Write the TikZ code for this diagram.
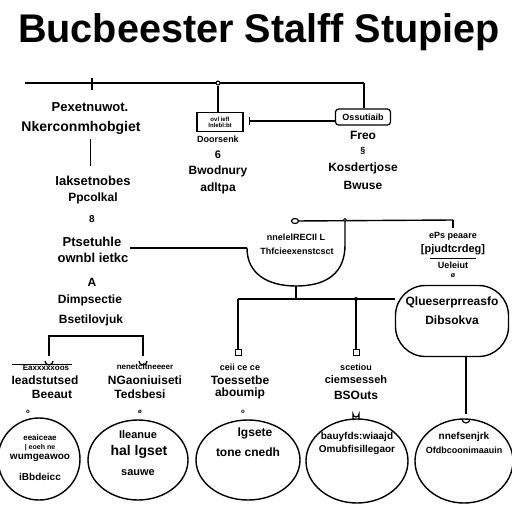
\documentclass[tikz,border=0pt]{standalone}
\usepackage{fontspec}
\setmainfont{Liberation Sans}
\usetikzlibrary{arrows.meta,shapes.geometric}
\tikzset{
  ln/.style={line width=1.4pt,black},
  lbl/.style={inner sep=0pt,align=center,font=\fontsize{#1}{#1}\selectfont\bfseries},
  lbl/.default=11,
  bubble/.style={draw,ellipse,line width=1.4pt,inner sep=0pt},
  sq/.style={draw,line width=1pt,minimum size=5pt,inner sep=0pt},
  dot/.style={draw,circle,line width=1pt,minimum size=5pt,inner sep=0pt,fill=white},
}
\begin{document}
\begin{tikzpicture}[x=1pt,y=-1pt]
\useasboundingbox[fill=white] (0,0) rectangle (512,512);
% title
\node[inner sep=0pt,font=\fontsize{40}{40}\selectfont\bfseries,xscale=0.99] (title) at (259,32) {Bucbeester Stalff Stupiep};

% top bar
\coordinate (tl) at (25,83);
\coordinate (tr) at (364,83);
\coordinate (tk) at (92,83);
\draw[ln] (tl) -- (tr);
\draw[ln] (92,78) -- (92,90);
\node[dot,minimum size=4pt] (j1) at (218,83) {};

% box1
\node[draw,line width=1.2pt,minimum width=46pt,minimum height=19pt,inner sep=0pt,lbl=6] (b1) at (220,122) {ovl iefl\\ lnlebl:bt};
\draw[ln] (j1) -- (b1.north -| j1);
% box2
\node[draw,line width=1.2pt,rounded corners=3pt,minimum width=55pt,minimum height=16pt,inner sep=0pt,lbl=9] (b2) at (363,117) {Ossutiaib};
\draw[ln] (tr) -- (b2.north -| tr);
\draw[ln,{Bar[width=8pt]}-] (b1.east |- 0,121) ++(5,0) coordinate (a1) -- (b2.west |- 0,121);

% texts under box1
\node[lbl=9] (d1) at (218,139) {Doorsenk};
\node[lbl=11] (d2) at (218,155) {6};
\node[lbl=12] (d3) at (218,171) {Bwodnury};
\node[lbl=12] (d4) at (218,188) {adltpa};
% texts under box2
\node[lbl=12] (e1) at (363,135) {Freo};
\node[lbl=9] (e2) at (363,151) {§};
\node[lbl=12] (e3) at (363,168) {Kosdertjose};
\node[lbl=12] (e4) at (363,185) {Bwuse};

% left column
\node[lbl=13] (l1) at (90,107) {Pexetnuwot.};
\node[lbl=14] (l2) at (81,128) {Nkerconmhobgiet};
\draw[ln,line width=1pt] (90,139) -- (90,166);
\node[lbl=13] (l3) at (93,181) {Iaksetnobes};
\node[lbl=12] (l4) at (93,198) {Ppcolkal};
\node[lbl=10] (l5) at (92,219) {8};
\node[lbl=13] (l6) at (92,242) {Ptsetuhle};
\node[lbl=13] (l7) at (93,258) {ownbl ietkc};
\node[lbl=12] (l8) at (92,282) {A};
\node[lbl=12] (l9) at (90,300) {Dimpsectie};
\node[lbl=12] (l10) at (91,320) {Bsetilovjuk};

% bowl
\coordinate (bwL) at (247,248);
\coordinate (bwR) at (345,220);
\coordinate (bwB) at (296,286);
\draw[ln] (130,248) coordinate (lin) -- (bwL);
\draw[ln] (bwL) .. controls (247,274) and (268,286) .. (bwB) .. controls (328,286) and (345,272) .. (345,245) -- (bwR);
\node[lbl=9] (bw1) at (296,237) {nnelelRECIl L};
\node[lbl=9] (bw2) at (297,251) {Thfcieexenstcsct};
\node[draw,ellipse,line width=1.2pt,minimum width=7pt,minimum height=5pt,inner sep=0pt] (o1) at (295,221) {};
\draw[ln] (o1) -- (453,220) coordinate (rtop);
\node[dot,minimum size=3pt] at (bwR) {};
\draw[ln,line width=2.5pt] (rtop) -- (453,228);

% right label
\node[lbl=9] (r1) at (453,236) {ePs peaare};
\node[lbl=11] (r2) at (453,250) {[pjudtcrdeg]};
\node[lbl=9] (r3) at (453,265) {Ueleiut};
\draw[line width=0.8pt] (430,258) -- (476,258);
\node[lbl=7] (r4) at (453,276) {ø};

% right rounded shape
\node[draw,line width=1.4pt,rounded corners=30pt,minimum width=113pt,minimum height=71pt,inner sep=0pt] (rs) at (452,321) {};
\node[lbl=12] (rs1) at (452,302) {Qlueserprreasfo};
\node[lbl=12] (rs2) at (452,320) {Dibsokva};

% below bowl
\coordinate (hb) at (296,299);
\draw[ln] (bwB) -- (hb);
\draw[ln] (238,299) coordinate (hL) -- (rs.west |- hb);
\node[sq,minimum size=6pt] (s1) at (238,352) {};
\node[sq,minimum size=6pt] (s2) at (356,352) {};
\draw[ln] (hL) -- (s1);
\draw[ln] (356,299) -- (s2);
\fill (356,299) circle (2pt);

% left bracket
\coordinate (k1) at (49,336);
\coordinate (k2) at (143,336);
\draw[ln] (49,356) -- (k1) -- (k2) -- (143,356);
\draw[line width=1.2pt] (45,361) arc (180:0:4);
\draw[line width=1.2pt] (139,361) arc (180:0:4);

% bottom labels
\draw[line width=0.8pt] (12,364) -- (72,364);
\node[lbl=8] (c1a) at (46,368) {Eaxxxxxoos};
\node[lbl=12] (c1b) at (45,380) {Ieadstutsed};
\node[lbl=12] (c1c) at (52,394) {Beeaut};
\node[lbl=6] at (28,412) {o};
\node[lbl=8] (c2a) at (145,367) {nenetcitneeeer};
\node[lbl=12] (c2b) at (145,380) {NGaoniuiseti};
\node[lbl=12] (c2c) at (140,394) {Tedsbesi};
\node[lbl=6] at (140,412) {ø};
\node[lbl=9] (c3a) at (240,367) {ceii ce ce};
\node[lbl=12] (c3b) at (240,380) {Toessetbe};
\node[lbl=12] (c3c) at (240,393) {aboumip};
\node[lbl=6] at (243,412) {o};
\node[lbl=9] (c4a) at (356,367) {scetiou};
\node[lbl=11] (c4b) at (356,380) {ciemsesseh};
\node[lbl=12] (c4c) at (356,395) {BSOuts};

% bottom bubbles
\node[bubble,minimum width=82pt,minimum height=82pt] (p1) at (39,459) {};
\node[lbl=8] at (40,438) {eeaiceae};
\node[lbl=7] at (40,448) {| eoeh ne};
\node[lbl=10] at (40,458) {wumgeawoo};
\node[lbl=10] at (40,477) {iBbdeicc};
\node[bubble,minimum width=100pt,minimum height=80pt] (p2) at (138,460) {};
\node[lbl=11] at (138,435) {Ileanue};
\node[lbl=14] at (139,452) {hal lgset};
\node[lbl=11] at (138,473) {sauwe};
\node[bubble,minimum width=104pt,minimum height=80pt] (p3) at (248,460) {};
\node[lbl=12] at (255,433) {lgsete};
\node[lbl=12] at (248,452) {tone cnedh};
\node[bubble,minimum width=102pt,minimum height=84pt] (p4) at (357,461) {};
\node[lbl=10] at (357,437) {bauyfds:wiaajd};
\node[lbl=10] at (357,450) {Omubfisillegaor};
\draw[line width=1.2pt] (353,420) -- (353,414) arc (180:0:3) -- (359,420);
\node[bubble,minimum width=98pt,minimum height=84pt] (p5) at (464,461) {};
\node[lbl=10] at (464,437) {nnefsenjrk};
\node[lbl=9] at (464,450) {Ofdbcoonimaauin};
\draw[ln] (rs.south -| 466,0) -- (466,414);
\draw[line width=1.2pt] (462,419) arc (180:0:4);
\end{tikzpicture}
\end{document}
